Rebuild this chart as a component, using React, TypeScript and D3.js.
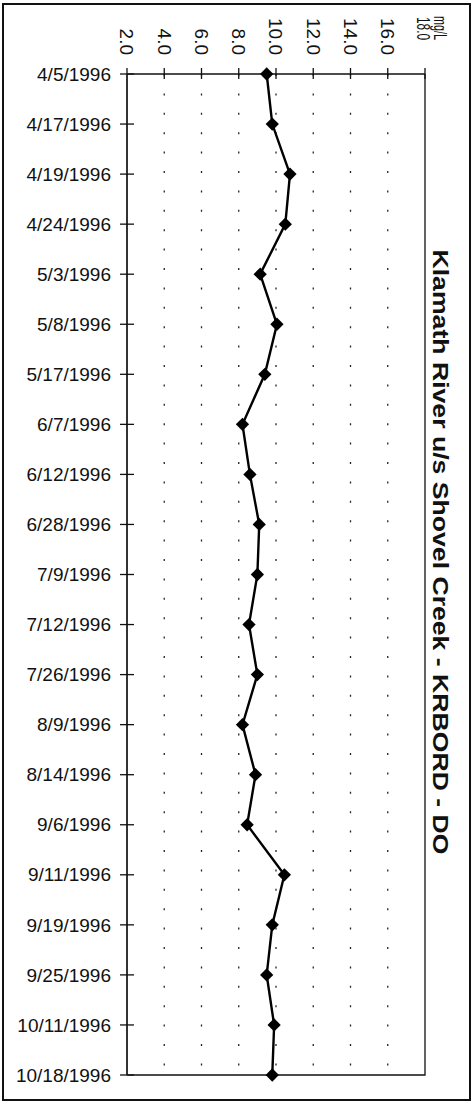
import * as d3 from 'd3'
import React, { useEffect, useRef } from 'react'

const dates = [
    '4/5/1996',
    '4/17/1996',
    '4/19/1996',
    '4/24/1996',
    '5/3/1996',
    '5/8/1996',
    '5/17/1996',
    '6/7/1996',
    '6/12/1996',
    '6/28/1996',
    '7/9/1996',
    '7/12/1996',
    '7/26/1996',
    '8/9/1996',
    '8/14/1996',
    '9/6/1996',
    '9/11/1996',
    '9/19/1996',
    '9/25/1996',
    '10/11/1996',
    '10/18/1996',
]
const doValues = [
    9.5, 9.8, 10.75, 10.5, 9.15, 10.05, 9.4, 8.2, 8.6, 9.1, 9.0, 8.55, 9.0, 8.2, 8.9, 8.45, 10.45,
    9.8, 9.5, 9.9, 9.8,
]
const tickValues = [2, 4, 6, 8, 10, 12, 14, 16, 18]
const unitLabel = 'mg/L'
const title = 'Klamath River u/s Shovel Creek - KRBORD - DO'

const App = (): JSX.Element => {
    const ref = useRef<SVGSVGElement>(null)
    const width = 473
    const height = 1103
    const plot = { left: 127, right: 425, top: 74, bottom: 1075 }
    const font = '"Liberation Sans", Arial, sans-serif'

    useEffect(() => {
        const svg = d3.select(ref.current)
        svg.selectAll('*').remove()

        const xScale = d3.scaleLinear().domain([2, 18]).range([plot.left, plot.right])
        const yScale = d3.scalePoint().domain(dates).range([plot.top, plot.bottom])

        // outer frame
        svg.append('rect')
            .attr('x', 3)
            .attr('y', 4)
            .attr('width', 467)
            .attr('height', 1096)
            .attr('fill', 'white')
            .attr('stroke', '#111')
            .attr('stroke-width', 2)

        // dotted grid
        svg.append('g')
            .selectAll('line')
            .data(tickValues.slice(1, -1))
            .enter()
            .append('line')
            .attr('x1', (d) => xScale(d))
            .attr('x2', (d) => xScale(d))
            .attr('y1', plot.top)
            .attr('y2', plot.bottom)
            .attr('stroke', '#222')
            .attr('stroke-width', 1.3)
            .attr('stroke-dasharray', '2,17.4')

        // right and bottom border of plot
        svg.append('path')
            .attr('d', `M${plot.right},${plot.top}V${plot.bottom}H${plot.left}`)
            .attr('fill', 'none')
            .attr('stroke', '#111')
            .attr('stroke-width', 1.3)

        // top value axis
        svg.append('line')
            .attr('x1', plot.left)
            .attr('x2', plot.right)
            .attr('y1', plot.top)
            .attr('y2', plot.top)
            .attr('stroke', '#111')
            .attr('stroke-width', 1.5)
        svg.append('g')
            .selectAll('line')
            .data(tickValues)
            .enter()
            .append('line')
            .attr('x1', (d) => xScale(d))
            .attr('x2', (d) => xScale(d))
            .attr('y1', plot.top - 6)
            .attr('y2', plot.top + 5)
            .attr('stroke', '#111')
            .attr('stroke-width', 1.3)
        // tick labels, the last one is squeezed in beside the unit label
        svg.append('g')
            .selectAll('text')
            .data(tickValues.slice(0, -1))
            .enter()
            .append('text')
            .attr('transform', (d) => `translate(${xScale(d)},55) rotate(90)`)
            .attr('text-anchor', 'end')
            .attr('dy', '0.35em')
            .attr('font-family', font)
            .attr('font-size', 19)
            .attr('fill', '#111')
            .text((d) => d3.format('.1f')(d))
        svg.append('text')
            .attr('transform', `translate(${xScale(18) - 2},17) rotate(90) scale(0.66,1)`)
            .attr('dy', '0.35em')
            .attr('font-family', font)
            .attr('font-size', 18)
            .attr('fill', '#111')
            .text(d3.format('.1f')(18))
        svg.append('text')
            .attr('transform', `translate(${xScale(18) + 15},16) rotate(90) scale(0.6,1)`)
            .attr('dy', '0.35em')
            .attr('font-family', font)
            .attr('font-size', 18)
            .attr('fill', '#111')
            .text(unitLabel)

        // left date axis
        svg.append('line')
            .attr('x1', plot.left)
            .attr('x2', plot.left)
            .attr('y1', plot.top)
            .attr('y2', plot.bottom)
            .attr('stroke', '#333')
            .attr('stroke-width', 2)
        svg.append('g')
            .selectAll('line')
            .data(dates)
            .enter()
            .append('line')
            .attr('x1', plot.left - 7)
            .attr('x2', plot.left + 7)
            .attr('y1', (d) => yScale(d))
            .attr('y2', (d) => yScale(d))
            .attr('stroke', '#111')
            .attr('stroke-width', 1.3)
        svg.append('g')
            .selectAll('text')
            .data(dates)
            .enter()
            .append('text')
            .attr('x', 111)
            .attr('y', (d) => yScale(d))
            .attr('dy', '0.35em')
            .attr('text-anchor', 'end')
            .attr('font-family', font)
            .attr('font-size', 19)
            .attr('fill', '#111')
            .text((d) => d)

        // data line
        const points = dates.map((d, i) => ({ date: d, value: doValues[i] }))
        const line = d3
            .line<{ date: string; value: number }>()
            .x((d) => xScale(d.value))
            .y((d) => yScale(d.date) as number)
        svg.append('path')
            .attr('d', line(points))
            .attr('fill', 'none')
            .attr('stroke', '#000')
            .attr('stroke-width', 2.4)
        const diamond = d3.symbol().type(d3.symbolSquare).size(88)
        svg.append('g')
            .selectAll('path')
            .data(points)
            .enter()
            .append('path')
            .attr('d', diamond())
            .attr('transform', (d) => `translate(${xScale(d.value)},${yScale(d.date)}) rotate(45)`)
            .attr('fill', '#000')

        // title
        svg.append('text')
            .attr('transform', `translate(441,552) rotate(90)`)
            .attr('text-anchor', 'middle')
            .attr('dy', '0.35em')
            .attr('font-family', font)
            .attr('font-weight', 'bold')
            .attr('font-size', 22)
            .attr('textLength', 605)
            .attr('lengthAdjust', 'spacingAndGlyphs')
            .attr('fill', '#111')
            .text(title)
    }, [])

    return (
        <div>
            <style>{'body{margin:0}'}</style>
            <svg ref={ref} width={width} height={height} style={{ display: 'block' }} />
        </div>
    )
}

export default App
